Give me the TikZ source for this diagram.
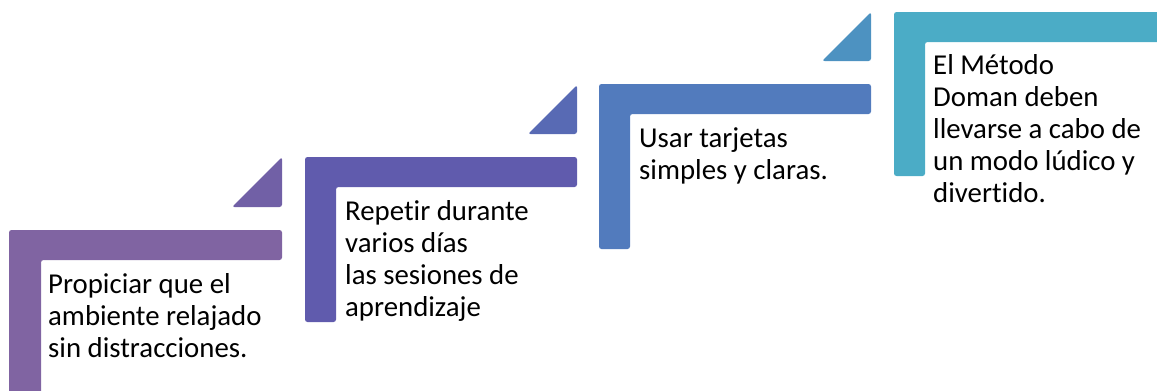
\documentclass[tikz,border=0pt]{standalone}
\usepackage{fontspec}
\setmainfont{Carlito}[Ligatures={NoCommon,NoContextual}]
\usetikzlibrary{positioning}
\definecolor{stepA}{RGB}{128,100,162}
\definecolor{tipA}{RGB}{113,96,166}
\definecolor{stepB}{RGB}{96,91,173}
\definecolor{tipB}{RGB}{88,106,180}
\definecolor{stepC}{RGB}{82,123,189}
\definecolor{tipC}{RGB}{77,146,193}
\definecolor{stepD}{RGB}{75,172,198}

\begin{document}
\begin{tikzpicture}[x=1pt,y=-1pt]
	\tikzstyle{bar}=[rounded corners=2.5pt]
	\tikzstyle{label}=[anchor=base west,align=left,inner sep=0pt,font=\fontsize{28.8}{32}\selectfont]
	\useasboundingbox (0,0) rectangle (1157,391);
		\fill[bar, stepA] (9,230) -- (282,230) -- (282,260) -- (41,260) -- (41,400) -- (9,400) -- cycle;
		\fill[bar, tipA] (282,157) -- (282,207) -- (232,207) -- cycle;
		\node[label] (s1) at (48,357) {Propiciar que el\\ambiente relajado\\sin distracciones.};
		\fill[bar, stepB] (305,157) -- (577,157) -- (577,187) -- (336,187) -- (336,322) -- (305,322) -- cycle;
		\fill[bar, tipB] (577,85) -- (577,134) -- (528,134) -- cycle;
		\node[label] (s2) at (345,316) {Repetir durante\\varios días\\las sesiones de\\aprendizaje};
		\fill[bar, stepC] (599,84) -- (871,84) -- (871,114) -- (630,114) -- (630,249) -- (599,249) -- cycle;
		\fill[bar, tipC] (871,12) -- (871,61) -- (822,61) -- cycle;
		\node[label] (s3) at (639,179) {Usar tarjetas\\simples y claras.};
		\fill[bar, stepD] (894,12) -- (1166,12) -- (1166,42) -- (925,42) -- (925,176) -- (894,176) -- cycle;
		\node[label] (s4) at (933,202) {El Método\\Doman deben\\llevarse a cabo de\\un modo lúdico y\\divertido.};
\end{tikzpicture}
\end{document}
